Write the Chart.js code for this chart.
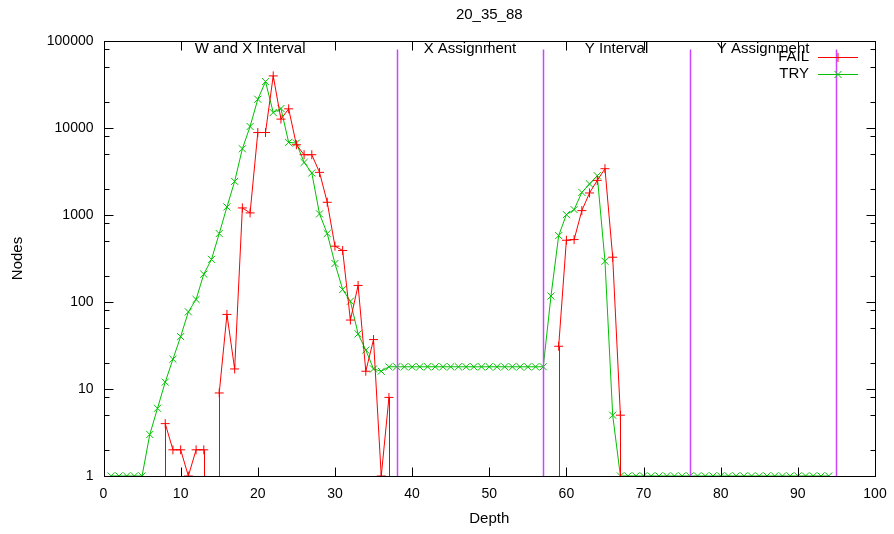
<!DOCTYPE html>
<html>
<head>
<meta charset="utf-8">
<script src="https://cdn.jsdelivr.net/npm/chart.js@4/dist/chart.umd.min.js"></script>
<style>
  html, body { margin: 0; padding: 0; background: #fff; }
  #wrap { width: 894px; height: 534px; }
</style>
</head>
<body>
<div id="wrap"><canvas id="c" width="894" height="534"></canvas></div>
<script>
// depth 1..94
const depths = [];
for (let d = 1; d <= 94; d++) depths.push(d);

// FAIL nodes per depth (0 = nothing, off the log scale)
const failNodes = [
  0, 0, 0, 0, 0, 0, 0, 4, 2, 2,
  1, 2, 2, 0, 9, 72, 17, 1206, 1057, 8870,
  8870, 39700, 12650, 16600, 6420, 4930, 4930, 3090, 1400, 438,
  391, 62, 155, 16, 37, 1, 8, 0, 0, 0,
  0, 0, 0, 0, 0, 0, 0, 0, 0, 0,
  0, 0, 0, 0, 0, 0, 0, 0, 31, 513,
  522, 1123, 1792, 2500, 3404, 327, 5, 0, 0, 0,
  0, 0, 0, 0, 0, 0, 0, 0, 0, 0,
  0, 0, 0, 0, 0, 0, 0, 0, 0, 0,
  0, 0, 0, 0
];

// TRY nodes per depth
const tryNodes = [
  1, 1, 1, 1, 1, 3, 6, 12, 22, 40,
  77, 107, 209, 309, 612, 1238, 2434, 5770, 10400, 21400,
  34100, 15060, 16750, 6820, 6710, 4020, 3040, 1030, 612, 277,
  139, 102, 43, 28, 17, 16, 18, 18, 18, 18,
  18, 18, 18, 18, 18, 18, 18, 18, 18, 18,
  18, 18, 18, 18, 18, 18, 18, 117, 580, 1011,
  1153, 1820, 2275, 2830, 294, 5, 1, 1, 1, 1,
  1, 1, 1, 1, 1, 1, 1, 1, 1, 1,
  1, 1, 1, 1, 1, 1, 1, 1, 1, 1,
  1, 1, 1, 1
];

// phase boundaries (depth) and their names
const phaseEdges = [0, 38, 57, 76, 95];
const phaseNames = ['W and X Interval', 'X Assignment', 'Y Interval', 'Y Assignment'];
const edgeTop = 80000;

const xTicks = [0, 10, 20, 30, 40, 50, 60, 70, 80, 90, 100];
const yTicks = [1, 10, 100, 1000, 10000, 100000];

const RED = '#ff0000';
const GREEN = '#00c000';
const MAGENTA = '#cc44ff';
const FONT = '"Liberation Sans", Arial, sans-serif';

function toPoints(vals) {
  return vals.map((v, i) => ({ x: depths[i], y: v > 0 ? v : null }));
}

const gnuplotDecor = {
  id: 'gnuplotDecor',
  afterDatasetsDraw(chart) {
    const ctx = chart.ctx;
    const a = chart.chartArea;
    const xs = chart.scales.x, ys = chart.scales.y;

    ctx.save();
    ctx.beginPath();
    ctx.rect(a.left, a.top, a.right - a.left, a.bottom - a.top);
    ctx.clip();

    // gnuplot draws lines to log(0) as drops to the bottom edge
    ctx.strokeStyle = RED;
    ctx.lineWidth = 1;
    for (let i = 0; i < failNodes.length; i++) {
      const v = failNodes[i];
      if (v <= 0) continue;
      const prev = i > 0 ? failNodes[i - 1] : v;
      const next = i < failNodes.length - 1 ? failNodes[i + 1] : v;
      if (prev === 0 || next === 0) {
        const px = Math.round(xs.getPixelForValue(depths[i])) + 0.5;
        ctx.beginPath();
        ctx.moveTo(px, ys.getPixelForValue(v));
        ctx.lineTo(px, a.bottom);
        ctx.stroke();
      }
    }

    // phase boundaries
    ctx.strokeStyle = MAGENTA;
    ctx.lineWidth = 1.5;
    for (let k = 1; k < phaseEdges.length; k++) {
      const px = Math.round(xs.getPixelForValue(phaseEdges[k])) + 0.5;
      ctx.beginPath();
      ctx.moveTo(px, ys.getPixelForValue(edgeTop));
      ctx.lineTo(px, a.bottom);
      ctx.stroke();
    }
    ctx.restore();

    // frame
    ctx.save();
    ctx.strokeStyle = '#000';
    ctx.lineWidth = 1;
    const L = Math.round(a.left) + 0.5, R = Math.round(a.right) + 0.5;
    const T = Math.round(a.top) + 0.5, B = Math.round(a.bottom) + 0.5;
    ctx.strokeRect(L, T, R - L, B - T);

    // x ticks (inward, mirrored)
    ctx.beginPath();
    xTicks.forEach(t => {
      const px = Math.round(xs.getPixelForValue(t)) + 0.5;
      ctx.moveTo(px, B); ctx.lineTo(px, B - 9);
      ctx.moveTo(px, T); ctx.lineTo(px, T + 9);
    });
    // y ticks, major and minor
    yTicks.forEach((t, k) => {
      const py = Math.round(ys.getPixelForValue(t)) + 0.5;
      ctx.moveTo(L, py); ctx.lineTo(L + 9, py);
      ctx.moveTo(R, py); ctx.lineTo(R - 9, py);
      if (k < yTicks.length - 1) {
        [2, 5, 8].forEach(m => {
          const pm = Math.round(ys.getPixelForValue(t * m)) + 0.5;
          ctx.moveTo(L, pm); ctx.lineTo(L + 5, pm);
          ctx.moveTo(R, pm); ctx.lineTo(R - 5, pm);
        });
      }
    });
    ctx.stroke();

    // texts
    ctx.fillStyle = '#000';
    ctx.font = '15px ' + FONT;
    ctx.textAlign = 'center';
    ctx.textBaseline = 'middle';
    ctx.fillText('20_35_88', (a.left + a.right) / 2, 15);
    ctx.fillText('Depth', (a.left + a.right) / 2, 519);
    for (let k = 0; k < phaseNames.length; k++) {
      const mid = (phaseEdges[k] + phaseEdges[k + 1]) / 2;
      ctx.fillText(phaseNames[k], xs.getPixelForValue(mid), a.top + 8);
    }
    ctx.save();
    ctx.translate(18, (a.top + a.bottom) / 2);
    ctx.rotate(-Math.PI / 2);
    ctx.fillText('Nodes', 0, 0);
    ctx.restore();

    // legend, gnuplot style
    const items = [
      { label: 'FAIL', color: RED, style: 'cross', y: 57 },
      { label: 'TRY', color: GREEN, style: 'crossRot', y: 74 }
    ];
    items.forEach(it => {
      ctx.fillStyle = '#000';
      ctx.textAlign = 'right';
      ctx.fillText(it.label, 809, it.y);
      ctx.strokeStyle = it.color;
      ctx.lineWidth = 1;
      ctx.beginPath();
      ctx.moveTo(818, it.y + 0.5); ctx.lineTo(858, it.y + 0.5);
      ctx.stroke();
      Chart.helpers.drawPoint(ctx, { pointStyle: it.style, radius: it.style === 'cross' ? 4.5 : 5, borderWidth: 1 }, 838, it.y + 0.5);
    });
    ctx.restore();
  }
};

new Chart(document.getElementById('c'), {
  type: 'line',
  data: {
    datasets: [
      {
        label: 'FAIL',
        data: toPoints(failNodes),
        borderColor: RED,
        backgroundColor: RED,
        borderWidth: 1,
        pointStyle: 'cross',
        pointRadius: 4.5,
        pointBorderWidth: 1,
        spanGaps: false,
        tension: 0
      },
      {
        label: 'TRY',
        data: toPoints(tryNodes),
        borderColor: GREEN,
        backgroundColor: GREEN,
        borderWidth: 1,
        pointStyle: 'crossRot',
        pointRadius: 5,
        pointBorderWidth: 1,
        spanGaps: false,
        tension: 0
      }
    ]
  },
  options: {
    responsive: false,
    animation: false,
    layout: { padding: { top: 41, right: 19, left: 0, bottom: 0 } },
    plugins: {
      legend: { display: false },
      title: { display: false },
      tooltip: { enabled: false }
    },
    scales: {
      x: {
        type: 'linear',
        min: 0,
        max: 100,
        afterBuildTicks: s => { s.ticks = xTicks.map(v => ({ value: v })); },
        afterFit: s => { s.height = 58; s.paddingLeft = 0; s.paddingRight = 0; },
        grid: { display: false, drawTicks: false },
        border: { display: false },
        ticks: { color: '#000', font: { family: FONT, size: 14 }, padding: 10, maxRotation: 0 }
      },
      y: {
        type: 'logarithmic',
        min: 1,
        max: 100000,
        afterBuildTicks: s => { s.ticks = yTicks.map(v => ({ value: v })); },
        afterFit: s => { s.width = 103.5; s.paddingTop = 0; s.paddingBottom = 0; },
        grid: { display: false, drawTicks: false },
        border: { display: false },
        ticks: {
          color: '#000',
          font: { family: FONT, size: 14 },
          padding: 10,
          callback: v => String(v)
        }
      }
    }
  },
  plugins: [gnuplotDecor]
});
</script>
</body>
</html>
